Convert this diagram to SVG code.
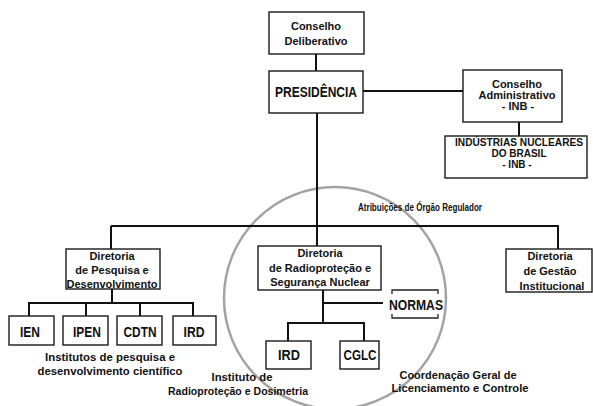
<svg xmlns="http://www.w3.org/2000/svg" width="593" height="406" viewBox="0 0 593 406">
<style>
.box{fill:#fff;stroke:#1a1a1a;stroke-width:1.4}
.t{font-family:"Liberation Sans",Arial,sans-serif;font-weight:bold;font-size:11px;fill:#111;text-anchor:middle}
.s{font-size:10px}
.big{font-size:14px}
.con{stroke:#111;stroke-width:2;fill:none}
</style>
<rect width="593" height="406" fill="#fff"/>
<ellipse id="highlight" cx="335" cy="298" rx="111" ry="111" fill="none" stroke="#a3a3a3" stroke-width="2.5"/>
<g id="connectors" class="con">
<path d="M316 54V71"/>
<path d="M363 91H463"/>
<path d="M519 122V136"/>
<path d="M317 113V246"/>
<path d="M111 226H558V249"/>
<path d="M111 226V249"/>
<path d="M112 289V303"/>
<path d="M29 316V303H193V316M86 303V316M140 303V316"/>
<path d="M323 290V323"/>
<path d="M323 303H383"/>
<path d="M288 341V323H364V341"/>
</g>
<g id="conselho-deliberativo">
<rect class="box" x="269" y="12" width="95" height="42"/>
<text class="t" x="316" y="30">Conselho</text>
<text class="t" x="316" y="45">Deliberativo</text>
</g>
<g id="presidencia">
<rect class="box" x="269" y="71" width="94" height="42"/>
<text class="t big" x="316" y="97" textLength="82" lengthAdjust="spacingAndGlyphs">PRESIDÊNCIA</text>
</g>
<g id="conselho-administrativo">
<rect class="box" x="463" y="70" width="99" height="52"/>
<text class="t" x="517" y="88">Conselho</text>
<text class="t" x="517" y="99">Administrativo</text>
<text class="t" x="518" y="110">- INB -</text>
</g>
<g id="inb">
<rect class="box" x="445" y="136" width="142" height="42"/>
<text class="t s" x="519" y="146" textLength="128" lengthAdjust="spacingAndGlyphs">INDÚSTRIAS  NUCLEARES</text>
<text class="t s" x="519" y="157">DO BRASIL</text>
<text class="t s" x="517" y="168">-  INB -</text>
</g>
<text class="t" x="420" y="211" textLength="124" lengthAdjust="spacingAndGlyphs">Atribuições de Órgão Regulador</text>
<g id="diretoria-pesquisa">
<rect class="box" x="66" y="249" width="94" height="40"/>
<text class="t" x="112" y="260">Diretoria</text>
<text class="t" x="112" y="274">de Pesquisa e</text>
<text class="t" x="112" y="288">Desenvolvimento</text>
</g>
<g id="diretoria-radioprotecao">
<rect class="box" x="258" y="246" width="123" height="44"/>
<text class="t" x="320" y="257">Diretoria</text>
<text class="t" x="320" y="272">de Radioproteção e</text>
<text class="t" x="320" y="286">Segurança Nuclear</text>
</g>
<g id="diretoria-gestao">
<rect class="box" x="506" y="249" width="86" height="43"/>
<text class="t" x="550" y="260">Diretoria</text>
<text class="t" x="550" y="275">de Gestão</text>
<text class="t" x="552" y="290">Institucional</text>
</g>
<g id="ien">
<rect class="box" x="9" y="316" width="45" height="29"/>
<text class="t big" x="30" y="337" textLength="20" lengthAdjust="spacingAndGlyphs">IEN</text>
</g>
<g id="ipen">
<rect class="box" x="63" y="316" width="45" height="29"/>
<text class="t big" x="87" y="337" textLength="28" lengthAdjust="spacingAndGlyphs">IPEN</text>
</g>
<g id="cdtn">
<rect class="box" x="117" y="316" width="45" height="29"/>
<text class="t big" x="140" y="337" textLength="33" lengthAdjust="spacingAndGlyphs">CDTN</text>
</g>
<g id="ird-1">
<rect class="box" x="173" y="316" width="43" height="29"/>
<text class="t big" x="194" y="337" textLength="21" lengthAdjust="spacingAndGlyphs">IRD</text>
</g>
<text class="t" x="110" y="361" textLength="130" lengthAdjust="spacingAndGlyphs">Institutos de pesquisa e</text>
<text class="t" x="110" y="375" textLength="145" lengthAdjust="spacingAndGlyphs">desenvolvimento científico</text>
<g id="normas">
<path d="M392 294V290H438V294M392 314V318H438V314" fill="none" stroke="#222" stroke-width="1.3"/>
<text class="t big" x="416" y="310" textLength="54" lengthAdjust="spacingAndGlyphs">NORMAS</text>
</g>
<g id="ird-2">
<rect class="box" x="266" y="341" width="45" height="28"/>
<text class="t big" x="289" y="360" textLength="22" lengthAdjust="spacingAndGlyphs">IRD</text>
</g>
<g id="cglc">
<rect class="box" x="340" y="341" width="39" height="28"/>
<text class="t big" x="360" y="360" textLength="33" lengthAdjust="spacingAndGlyphs">CGLC</text>
</g>
<text class="t" x="242" y="381" textLength="61" lengthAdjust="spacingAndGlyphs">Instituto de</text>
<text class="t" x="238" y="395" textLength="140" lengthAdjust="spacingAndGlyphs">Radioproteção e Dosimetria</text>
<text class="t" x="458" y="379" textLength="117" lengthAdjust="spacingAndGlyphs">Coordenação Geral de</text>
<text class="t" x="460" y="392" textLength="137" lengthAdjust="spacingAndGlyphs">Licenciamento e Controle</text>
</svg>
